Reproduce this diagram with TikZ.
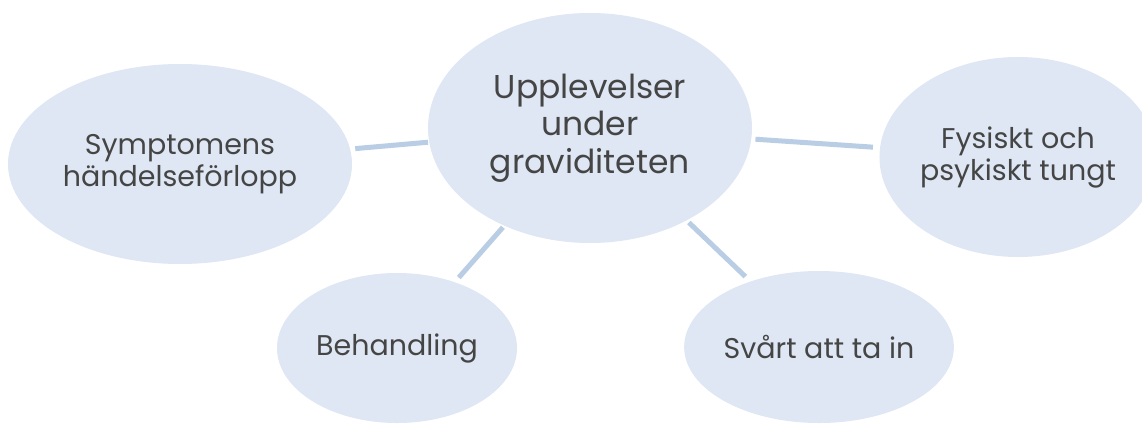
\documentclass[tikz,border=0pt]{standalone}
\usepackage{fontspec}
\setmainfont{Poppins}
\usetikzlibrary{shapes.geometric}
\definecolor{ellfill}{HTML}{DEE7F3}
\definecolor{linkcol}{HTML}{B9CDE5}
\definecolor{txtcol}{HTML}{454545}
\tikzset{
  bubble/.style={ellipse, fill=ellfill, draw=none, inner sep=0pt, align=center, text=txtcol,
    font=\fontsize{28.5}{32}\selectfont},
  bigbubble/.style={bubble, font=\fontsize{33}{37.5}\selectfont},
  link/.style={draw=linkcol, line width=5pt}
}
\begin{document}
\begin{tikzpicture}[x=1pt,y=-1pt]
\useasboundingbox (0,0) rectangle (1142,423);
\node[bigbubble, minimum width=324pt, minimum height=230pt] (C) at (590,128) {Upplevelser\\under\\graviditeten};
\node[bubble, minimum width=344pt, minimum height=200pt] (L) at (180,164) {Symptomens\\händelseförlopp};
\node[bubble, minimum width=266pt, minimum height=200pt] (R) at (1018,157) {Fysiskt och\\psykiskt tungt};
\node[bubble, minimum width=240pt, minimum height=150pt] (B) at (397,348) {Behandling};
\node[bubble, minimum width=264pt, minimum height=152pt] (S) at (819,347) {Svårt att ta in};
\draw[link, shorten <=5pt, shorten >=1pt] (L) -- (C);
\draw[link, shorten <=4pt, shorten >=7pt] (C) -- (R);
\draw[link, shorten <=2pt, shorten >=6pt] (C) -- (B);
\draw[link, shorten <=3pt, shorten >=7pt] (C) -- (S);
\end{tikzpicture}
\end{document}
